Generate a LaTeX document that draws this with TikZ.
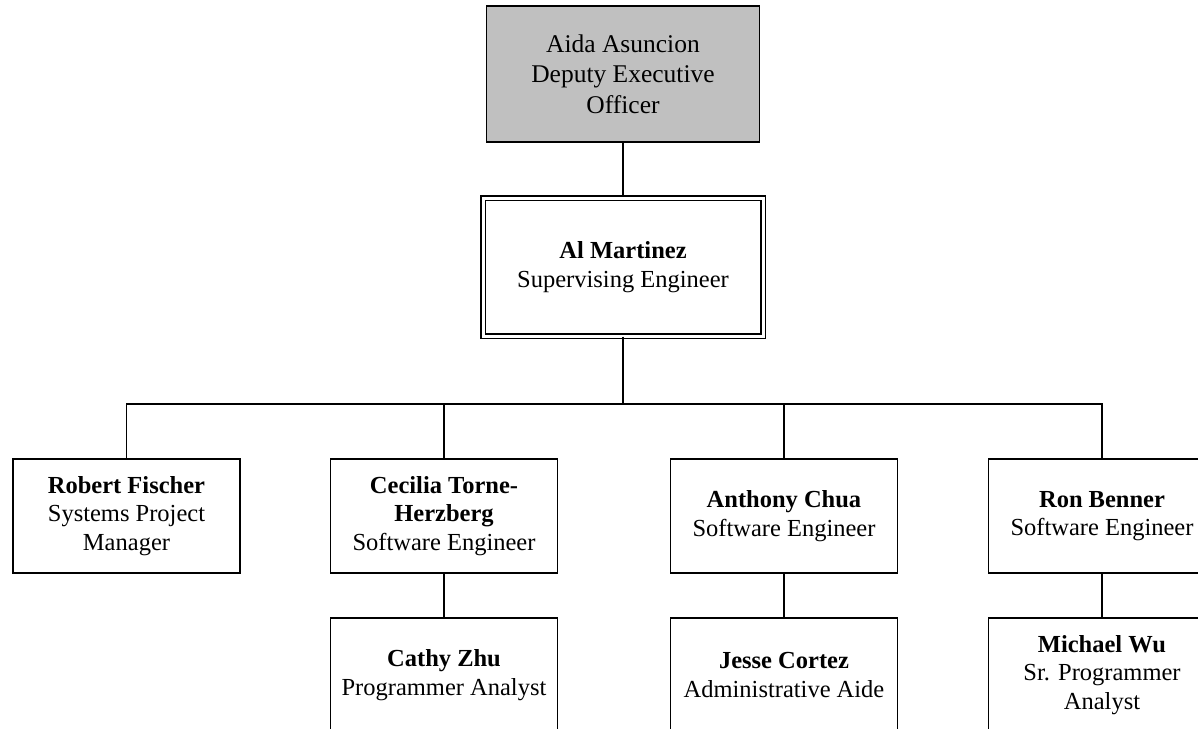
\documentclass[tikz,border=0pt]{standalone}
\usepackage{fontspec}
\setmainfont{Liberation Serif}
\definecolor{topgray}{HTML}{C0C0C0}
\begin{document}
\begin{tikzpicture}[x=1pt,y=-1pt,
  box/.style={draw=black,line width=1.4pt,fill=white,minimum width=227pt,minimum height=114pt,inner sep=0pt,align=center,font=\fontsize{24.5}{28.5}\selectfont},
  topbox/.style={draw=black,line width=1.4pt,fill=topgray,minimum width=273pt,minimum height=136pt,inner sep=0pt,align=center,font=\fontsize{25.5}{30.5}\selectfont},
  dblbox/.style={draw=black,double=white,double distance=3pt,line width=1.2pt,fill=white,minimum width=280pt,minimum height=138pt,inner sep=0pt,align=center,font=\fontsize{24.5}{28.5}\selectfont},
  link/.style={draw=black,line width=1.4pt}]
\useasboundingbox (0,0) rectangle (1198,728);
\clip (0,0) rectangle (1198,728);
\node[topbox] (aida) at (623,74) {Aida Asuncion\\Deputy Executive\\Officer};
\node[dblbox] (al) at (623,267) {\textbf{Al Martinez}\\Supervising Engineer};
\node[box] (robert) at (126.5,516) {\textbf{Robert Fischer}\\Systems Project\\Manager};
\node[box] (cecilia) at (444,516) {\textbf{Cecilia Torne-}\\\textbf{Herzberg}\\Software Engineer};
\node[box] (anthony) at (784,516) {\textbf{Anthony Chua}\\Software Engineer};
\node[box] (ron) at (1102,516) {\textbf{Ron Benner}\\Software Engineer};
\node[box] (cathy) at (444,675) {\textbf{Cathy Zhu}\\Programmer Analyst};
\node[box] (jesse) at (784,675) {\textbf{Jesse Cortez}\\Administrative Aide};
\node[box] (michael) at (1102,675) {\textbf{Michael Wu}\\Sr. Programmer\\Analyst};
\coordinate (bus) at (623,404);
\draw[link] (aida.south) -- (al.north);
\draw[link] (al.south) -- (bus);
\draw[link] (robert.north) |- (bus) -| (ron.north);
\draw[link] (cecilia.north) -- (cecilia.north |- bus);
\draw[link] (anthony.north) -- (anthony.north |- bus);
\draw[link] (cecilia.south) -- (cathy.north);
\draw[link] (anthony.south) -- (jesse.north);
\draw[link] (ron.south) -- (michael.north);
\end{tikzpicture}
\end{document}
